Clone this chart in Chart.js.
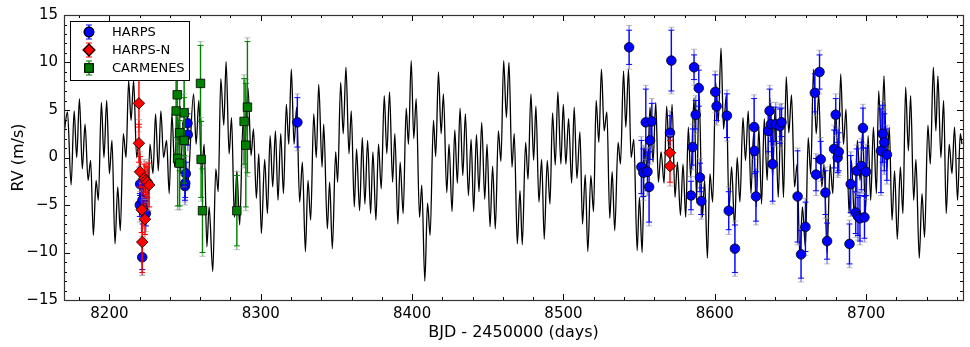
<!DOCTYPE html>
<html>
<head>
<meta charset="utf-8">
<script src="https://cdn.jsdelivr.net/npm/chart.js@4.4.0/dist/chart.umd.min.js"></script>
<style>
html, body { margin: 0; padding: 0; background: #fff; }
#wrap { width: 970px; height: 347px; }
</style>
</head>
<body>
<div id="wrap"><canvas id="rv" width="970" height="347"></canvas></div>
<script>
var modelT = [8170.0,8172.3,8174.7,8176.7,8178.4,8180.2,8182.1,8183.9,8185.9,8187.6,8189.4,8191.2,8192.7,8194.7,8196.4,8198.2,8200.0,8201.7,8203.7,8205.5,8207.2,8209.2,8211.0,8212.7,8214.3,8216.0,8218.0,8219.7,8221.5,8223.3,8225.0,8226.8,8228.8,8230.5,8232.3,8234.0,8235.8,8237.8,8239.5,8241.3,8243.1,8244.8,8247.0,8248.8,
  8251.6,8255.6,8257.3,8259.1,8260.9,8262.6,8264.4,8265.9,8268.3,8270.3,8271.9,8273.6,8275.6,8277.1,8279.1,8280.7,8282.6,8284.2,8286.1,8288.3,8289.4,8291.6,8293.6,8295.2,8297.1,8298.7,8300.4,8302.6,8304.4,8306.2,8307.9,8309.7,8311.4,8313.2,8315.0,8316.9,8318.5,8320.2,8322.0,8323.7,8325.7,8327.5,8329.5,8331.2,8333.0,
  8335.0,8336.7,8338.3,8340.5,8341.6,8344.0,8345.5,8347.3,8349.5,8350.8,8352.8,8354.5,8356.3,8358.3,8359.8,8361.8,8363.3,8365.3,8367.1,8368.8,8370.6,8372.6,8374.1,8376.1,8377.8,8379.6,8381.6,8383.3,8385.1,8387.1,8388.6,8390.6,8392.1,8394.1,8396.1,8397.6,8399.4,8401.1,8402.7,8404.9,8406.4,8408.4,8410.2,8411.9,8414.1,8415.6,
  8417.4,8419.2,8420.7,8422.9,8424.4,8426.4,8428.2,8429.9,8431.7,8433.5,8435.2,8437.2,8439.0,8440.7,8442.5,8444.2,8446.0,8448.0,8449.5,8451.5,8453.2,8455.0,8457.0,8458.7,8460.5,8462.3,8464.0,8466.0,8467.5,8469.5,8471.3,8472.8,8475.0,8476.6,8478.5,8480.3,8481.8,8483.8,8485.6,8487.3,8489.3,8491.1,8492.8,8494.6,8496.3,8498.3,
  8499.9,8501.6,8503.4,8505.4,8507.1,8508.9,8510.9,8512.6,8514.4,8516.1,8518.1,8519.9,8521.6,8523.4,8525.1,8526.9,8528.7,8530.6,8532.2,8533.9,8536.1,8537.7,8539.7,8541.2,8543.0,8544.7,8546.5,8548.7,8550.2,8552.0,8553.7,8555.5,8557.2,8559.2,8561.0,8562.7,8564.5,8566.5,8568.2,8570.0,8571.8,8573.7,8575.3,8577.3,8579.0,8580.8,
  8582.5,8584.1,8586.3,8588.0,8589.6,8591.8,8593.3,8595.1,8596.8,8598.6,8600.6,8602.3,8604.1,8605.8,8607.6,8609.4,8611.1,8613.1,8614.8,8616.6,8618.6,8620.3,8622.1,8623.9,8625.6,8627.4,8629.1,8630.9,8632.7,8634.6,8636.4,8638.2,8639.9,8641.9,8643.7,8645.4,8647.2,8648.9,8650.7,8652.7,8654.4,8656.2,8657.9,8659.9,8661.7,8663.4,
  8665.2,8667.0,8668.7,8670.7,8672.2,8674.2,8676.2,8678.0,8679.7,8681.5,8683.2,8685.0,8686.7,8688.7,8690.3,8692.2,8694.2,8696.0,8697.7,8699.5,8701.3,8703.0,8704.8,8706.8,8708.3,8710.1,8711.8,8713.6,8715.3,8717.1,8718.8,8720.6,8722.6,8724.3,8726.1,8727.9,8729.4,8731.4,8732.9,8735.1,8736.9,8738.6,8740.8,8742.4,8744.4,8746.1,
  8747.4,8749.4,8751.2,8752.9,8754.9,8756.7,8758.4,8760.4,8762.2,8763.3];
var modelRV = [2.5,4.8,-2.9,4.9,0.0,6.2,-1.2,3.5,-2.4,-0.3,-8.2,-2.4,-4.5,5.8,0.0,6.0,-1.7,1.8,-9.1,-3.1,-7.7,2.5,0.0,8.1,3.9,8.1,0.0,1.8,-5.9,-2.4,-6.3,1.4,-1.7,4.6,-1.4,4.9,0.0,1.8,-3.8,4.6,-1.0,4.9,-1.7,3.9,
  -3.1,6.7,1.4,6.0,-1.7,1.4,-9.4,-5.2,-12.0,-1.2,-3.6,8.3,3.4,10.1,0.4,4.2,-6.3,-1.4,-7.1,3.9,1.1,7.3,0.2,3.0,-4.3,0.4,-8.0,-0.2,-5.9,2.3,-3.1,2.8,-4.5,2.5,-3.8,5.6,1.4,9.3,1.4,5.3,-4.7,-0.5,-9.9,-2.4,-6.6,
  4.6,0.0,7.7,-1.0,3.5,-7.5,-2.6,-9.6,0.6,-2.6,7.9,2.5,9.5,0.4,4.9,-5.2,0.9,-5.6,2.1,-4.9,1.8,-5.9,0.6,-6.6,1.4,-3.3,6.5,0.4,6.9,-2.6,2.5,-7.0,-0.5,-5.9,5.2,1.4,10.2,2.0,6.2,-6.3,-2.9,-13.0,-4.8,-8.2,3.9,0.1,
  9.0,2.5,6.7,-3.7,1.4,-5.7,2.9,-2.7,5.2,-1.9,4.6,-4.0,1.9,-5.7,2.4,-3.6,3.7,-4.4,1.4,-7.3,-0.9,-7.5,2.8,-0.4,10.2,4.2,10.0,-1.0,2.5,-9.1,-3.5,-9.2,1.6,-2.3,6.7,-0.3,5.4,-4.7,-0.2,-8.6,-0.3,-4.9,4.7,-0.8,6.9,-0.7,
  5.6,-0.7,4.1,-2.7,5.3,-2.2,2.7,-7.0,-1.8,-9.9,-1.9,-5.7,6.0,1.6,9.3,2.8,4.8,-6.4,-1.5,-7.7,1.6,-0.7,9.1,3.2,9.3,0.0,1.9,-9.8,-4.2,-10.0,1.1,-1.7,5.3,-0.5,5.8,-2.6,0.6,-2.7,5.4,-0.1,5.6,-4.2,-0.5,-6.1,-0.7,-6.3,
  3.2,-2.1,6.3,-4.5,6.9,-6.3,-2.4,-10.6,-1.7,-4.7,7.9,3.7,11.5,3.0,6.6,-5.4,-1.0,-7.3,0.0,-4.7,4.2,-0.3,4.9,-3.8,2.5,-5.2,3.2,-4.9,4.1,-2.4,6.3,-2.1,5.3,-4.2,3.9,-4.2,8.5,2.6,6.6,-3.1,-0.7,-10.5,-5.2,-9.4,2.1,-1.7,
  9.3,2.5,6.7,-3.1,-0.7,-10.1,-0.7,-3.8,5.3,-0.3,8.8,1.4,5.1,-5.9,-0.3,-6.3,1.8,-2.4,2.8,-5.9,2.3,-4.5,3.2,-3.8,7.0,1.1,8.6,-1.4,3.2,-6.6,-1.4,-8.6,-1.0,-5.9,7.4,0.7,6.5,-4.5,-0.2,-10.6,-3.8,-8.4,3.4,-0.7,9.5,2.8,
  8.6,0.0,6.0,-5.9,1.4,-1.7,3.2,-4.5,2.5,1.4];

// HARPS
var harpsT = [8220.1,8220.3,8221.7,8221.8,8222.0,8224.1,8249.9,8250.1,8250.5,8251.6,8251.8,8324.2,
  8543.4,8551.5,8552.8,8554.4,8555.5,8556.6,8557.2,8558.4,8570.4,8571.3,8584.3,8585.4,8586.3,8587.4,8589.4,8590.2,8591.1,
  8600.3,8601.2,8608.0,8609.2,8613.3,8626.0,8626.2,8627.2,8635.3,8636.2,8637.1,8638.2,8640.2,8643.0,8644.1,
  8654.7,8657.0,8659.9,8666.1,8666.9,8669.2,8670.0,8673.1,8674.2,8678.8,8679.9,8681.2,8681.9,
  8689.0,8689.8,8693.1,8693.8,8694.6,8695.9,8696.9,8697.9,8698.9,8699.9,8709.8,8710.9,8712.0,8713.7];
var harpsRV = [-5.0,-2.8,-10.5,-4.5,-5.5,-5.9,-3.0,-2.7,-1.7,3.6,2.4,3.7,
  11.6,-1.0,-1.6,3.7,-1.5,-3.1,1.8,3.8,2.6,10.2,-4.0,1.1,9.5,4.5,7.3,-2.1,-4.6,
  6.9,5.4,4.4,-5.6,-9.6,3.2,0.7,-4.1,2.8,4.9,3.5,-0.7,3.5,3.3,3.7,
  -4.1,-10.2,-7.3,6.8,-1.8,9.0,-0.2,-3.7,-8.8,0.9,4.5,0.0,0.6,
  -9.1,-2.8,-5.8,-1.4,-6.2,-6.4,-0.9,3.1,-6.3,-1.5,0.7,2.5,1.6,0.3];
var harpsErr = [1.2,1.2,1.3,1.5,1.5,1.3,1.5,1.5,1.2,1.0,1.1,2.6,
  1.8,2.8,2.5,3.5,2.0,3.7,2.0,1.9,1.8,3.2,1.5,1.9,1.3,1.5,1.9,1.5,1.4,
  1.8,1.5,2.3,2.0,2.5,3.0,2.4,2.6,2.2,2.3,1.8,3.9,1.8,1.8,1.5,
  4.8,2.5,2.6,2.0,1.7,1.8,1.9,2.3,1.9,2.0,1.7,1.6,2.0,
  2.1,3.0,2.2,2.3,2.0,2.4,2.5,2.1,2.2,2.5,4.4,3.0,3.0,2.7];
var harpsErrJit = [1.8,1.8,1.9,2.0,2.0,1.9,2.0,2.0,1.8,1.6,1.7,3.0,
  2.3,3.2,2.9,3.9,2.5,4.1,2.5,2.4,2.3,3.5,2.0,2.4,1.9,2.0,2.4,2.0,1.9,
  2.2,2.0,2.7,2.5,2.9,3.4,2.8,3.0,2.6,2.7,2.3,4.2,2.3,2.3,2.0,
  5.1,2.9,3.0,2.4,2.2,2.3,2.3,2.7,2.4,2.5,2.2,2.1,2.5,
  2.5,3.4,2.6,2.7,2.5,2.8,2.9,2.5,2.6,2.9,4.7,3.4,3.4,3.1];

// HARPS-N
var harpsnT = [8219.5,8219.5,8220.2,8221.3,8221.7,8223.0,8223.5,8224.1,8225.0,8226.3,8570.4,8570.4];
var harpsnRV = [5.7,1.5,-1.5,-5.5,-8.9,-2.2,-6.5,-2.4,-2.6,-2.9,0.5,-0.9];
var harpsnErr = [2.5,2.0,1.6,2.4,3.2,1.5,1.6,1.5,1.6,2.3,1.3,1.7];
var harpsnErrJit = [3.0,2.5,2.1,2.8,3.5,2.0,2.1,2.0,2.1,2.7,1.8,2.1];

// CARMENES
var carmT = [8244.1,8244.8,8245.1,8246.4,8246.4,8249.4,8249.4,8260.2,8260.6,8261.5,8284.2,8289.0,8290.1,8291.2];
var carmRV = [4.9,6.6,-0.1,2.6,-0.6,4.7,1.8,7.8,-0.2,-5.6,-5.6,3.8,1.3,5.3];
var carmErr = [4.5,4.5,5.0,4.0,4.5,4.5,4.5,4.0,4.0,4.4,3.7,4.5,6.5,6.9];
var carmErrJit = [4.9,4.9,5.4,4.4,4.9,4.9,4.9,4.4,4.4,4.8,4.1,4.9,6.9,7.3];

var xTicks = [8200, 8300, 8400, 8500, 8600, 8700];
var yTicks = [-15, -10, -5, 0, 5, 10, 15];
var xMin = 8170, xMax = 8764, yMin = -15, yMax = 15;

function pts(t, v) {
    var out = [];
    for (var i = 0; i < t.length; i++) out.push({ x: t[i], y: v[i] });
    return out;
}
function minus(v) { return v < 0 ? '\u2212' + Math.abs(v) : '' + v; }

var FONT = "'DejaVu Sans', sans-serif";

// error bars: light bar with grey caps (with jitter), then solid bar
var errPlugin = {
    id: 'errbars',
    beforeDatasetDraw: function (chart, args) {
        var ds = chart.data.datasets[args.index];
        if (!ds.err) return;
        var ctx = chart.ctx, xs = chart.scales.x, ys = chart.scales.y;
        ctx.save();
        function bar(px, lo, hi, col, capCol, w) {
            var a = ys.getPixelForValue(hi), b = ys.getPixelForValue(lo);
            ctx.strokeStyle = col; ctx.lineWidth = w;
            ctx.beginPath(); ctx.moveTo(px, a); ctx.lineTo(px, b); ctx.stroke();
            ctx.strokeStyle = capCol; ctx.lineWidth = 1;
            ctx.beginPath();
            ctx.moveTo(px - 3, a); ctx.lineTo(px + 3, a);
            ctx.moveTo(px - 3, b); ctx.lineTo(px + 3, b);
            ctx.stroke();
        }
        ds.data.forEach(function (p, i) {
            var px = xs.getPixelForValue(p.x);
            bar(px, p.y - ds.errJit[i], p.y + ds.errJit[i], ds.lightColor, 'rgba(150,150,150,0.6)', 1.5);
            bar(px, p.y - ds.err[i], p.y + ds.err[i], ds.barColor, ds.barColor, 1.2);
        });
        ctx.restore();
    }
};

// frame, inward ticks, legend
var framePlugin = {
    id: 'frame',
    afterDraw: function (chart) {
        var ctx = chart.ctx, a = chart.chartArea, xs = chart.scales.x, ys = chart.scales.y;
        ctx.save();
        ctx.strokeStyle = '#000'; ctx.lineWidth = 1;
        ctx.beginPath();
        var v, p, len;
        for (v = 8180; v <= xMax; v += 20) {
            p = Math.round(xs.getPixelForValue(v)) + 0.5;
            len = (v % 100 === 0) ? 6 : 3;
            ctx.moveTo(p, a.bottom); ctx.lineTo(p, a.bottom - len);
            ctx.moveTo(p, a.top); ctx.lineTo(p, a.top + len);
        }
        for (v = yMin; v <= yMax; v += 1) {
            p = Math.round(ys.getPixelForValue(v)) + 0.5;
            len = (v % 5 === 0) ? 6 : 3;
            ctx.moveTo(a.left, p); ctx.lineTo(a.left + len, p);
            ctx.moveTo(a.right, p); ctx.lineTo(a.right - len, p);
        }
        ctx.stroke();
        ctx.strokeStyle = '#333'; ctx.lineWidth = 1.2;
        ctx.strokeRect(Math.round(a.left) + 0.5, Math.round(a.top) + 0.5, Math.round(a.right - a.left), Math.round(a.bottom - a.top));

        // legend box
        var lx = 70, ly = 21, lw = 119, lh = 59;
        ctx.fillStyle = '#fff';
        ctx.fillRect(lx, ly, lw, lh);
        ctx.strokeStyle = '#000'; ctx.lineWidth = 1;
        ctx.strokeRect(lx + 0.5, ly + 0.5, lw, lh);
        var sets = chart.data.datasets.filter(function (d) { return d.err; });
        sets.forEach(function (d, i) {
            var cy = ly + 11 + i * 18, cx = lx + 19;
            ctx.strokeStyle = d.barColor; ctx.lineWidth = 1.2;
            ctx.beginPath();
            ctx.moveTo(cx, cy - 7); ctx.lineTo(cx, cy + 7);
            ctx.moveTo(cx - 3, cy - 7); ctx.lineTo(cx + 3, cy - 7);
            ctx.moveTo(cx - 3, cy + 7); ctx.lineTo(cx + 3, cy + 7);
            ctx.stroke();
            Chart.helpers.drawPoint(ctx, {
                pointStyle: d.pointStyle, radius: d.pointRadius, borderWidth: 0.8
            }, cx, cy);
            ctx.fillStyle = d.backgroundColor; ctx.strokeStyle = '#000';
            ctx.fill(); ctx.stroke();
            ctx.fillStyle = '#000';
            ctx.font = '13px ' + FONT;
            ctx.textBaseline = 'middle'; ctx.textAlign = 'left';
            ctx.fillText(d.label, lx + 42, cy + 1);
        });
        ctx.restore();
    }
};

new Chart(document.getElementById('rv'), {
    type: 'scatter',
    data: {
        datasets: [{
            label: 'HARPS',
            data: pts(harpsT, harpsRV),
            err: harpsErr, errJit: harpsErrJit,
            barColor: '#0000ff', lightColor: 'rgba(0,0,255,0.45)',
            pointStyle: 'circle', pointRadius: 4.8,
            backgroundColor: '#0000ff', borderColor: '#000', borderWidth: 0.8,
            order: 3
        }, {
            label: 'HARPS-N',
            data: pts(harpsnT, harpsnRV),
            err: harpsnErr, errJit: harpsnErrJit,
            barColor: '#ff0000', lightColor: 'rgba(255,0,0,0.45)',
            pointStyle: 'rectRot', pointRadius: 5.8,
            backgroundColor: '#ff0000', borderColor: '#000', borderWidth: 0.8,
            order: 2
        }, {
            label: 'CARMENES',
            data: pts(carmT, carmRV),
            err: carmErr, errJit: carmErrJit,
            barColor: '#008000', lightColor: 'rgba(0,128,0,0.45)',
            pointStyle: 'rect', pointRadius: 6,
            backgroundColor: '#008000', borderColor: '#000', borderWidth: 0.8,
            order: 1
        }, {
            type: 'line',
            label: 'model',
            data: pts(modelT, modelRV),
            borderColor: '#000', borderWidth: 1.3,
            pointRadius: 0, fill: false,
            cubicInterpolationMode: 'monotone',
            order: 10
        }]
    },
    options: {
        responsive: false,
        animation: false,
        devicePixelRatio: 1,
        layout: { padding: { top: 14, right: 7, left: 0, bottom: 0 } },
        plugins: { legend: { display: false }, tooltip: { enabled: false } },
        scales: {
            x: {
                type: 'linear', min: xMin, max: xMax,
                afterBuildTicks: function (s) { s.ticks = xTicks.map(function (v) { return { value: v }; }); },
                afterFit: function (s) { s.height = 47; },
                grid: { display: false, drawTicks: false },
                border: { display: false },
                ticks: { color: '#000', padding: 5, maxRotation: 0, font: { family: FONT, size: 15 },
                         callback: function (v) { return '' + v; } },
                title: { display: true, text: 'BJD - 2450000 (days)', color: '#000',
                         font: { family: FONT, size: 16 }, padding: { top: 0, bottom: 5 } }
            },
            y: {
                min: yMin, max: yMax,
                afterBuildTicks: function (s) { s.ticks = yTicks.map(function (v) { return { value: v }; }); },
                afterFit: function (s) { s.width = 64; },
                grid: { display: false, drawTicks: false },
                border: { display: false },
                ticks: { color: '#000', padding: 6, font: { family: FONT, size: 15 }, callback: minus },
                title: { display: true, text: 'RV (m/s)', color: '#000',
                         font: { family: FONT, size: 16 }, padding: { top: 9, bottom: 0 } }
            }
        }
    },
    plugins: [errPlugin, framePlugin]
});
</script>
</body>
</html>
